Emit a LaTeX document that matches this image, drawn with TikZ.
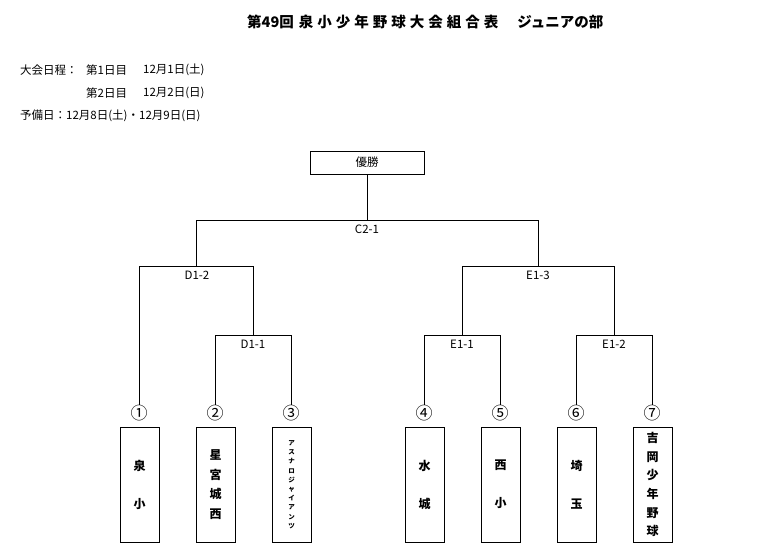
\documentclass[tikz,border=0pt]{standalone}
\usepackage{fontspec}
\setmainfont{Noto Sans CJK JP}
\begin{document}
\begin{tikzpicture}[x=1pt,y=-1pt,
  ln/.style={line width=1pt},
  lbl/.style={font=\fontsize{11.5}{12}\selectfont, inner sep=0},
  hdr/.style={font=\fontsize{11.5}{12}\selectfont, anchor=west, inner sep=0},
  num/.style={font=\fontsize{17}{17}\selectfont, inner sep=0pt},
  team/.style={draw, line width=1pt, minimum width=39pt, minimum height=115pt, inner sep=0, align=center},
]
\useasboundingbox (0,0) rectangle (764,551);
% title
\node[anchor=west, inner sep=0, font=\fontsize{14.5}{15}\selectfont\bfseries] (title) at (247,22)
  {第49回\hspace{5pt}泉\hspace{4pt}小\hspace{4pt}少\hspace{4pt}年\hspace{4pt}野\hspace{4pt}球\hspace{4pt}大\hspace{4pt}会\hspace{4pt}組\hspace{4pt}合\hspace{4pt}表\hspace{19pt}ジュニアの部};
% header
\node[hdr] (h1) at (20,70) {大会日程：};
\node[hdr] (h2) at (86,70) {第1日目};
\node[hdr] (h3) at (143,70) {12月1日(土)};
\node[hdr] (h4) at (86,93) {第2日目};
\node[hdr] (h5) at (143,93) {12月2日(日)};
\node[hdr] (h6) at (20,116) {予備日：12月8日(土)・12月9日(日)};
% winner box
\node[draw, line width=1pt, minimum width=114pt, minimum height=23pt, inner sep=0, font=\fontsize{11.5}{12}\selectfont] (win) at (367,162.5) {優勝};
% junctions
\coordinate (c21) at (367,220);
\coordinate (c21l) at (196,220);
\coordinate (c21r) at (538,220);
\coordinate (d12) at (196,266);
\coordinate (d12l) at (139,266);
\coordinate (d12r) at (253,266);
\coordinate (d11) at (253,335);
\coordinate (d11l) at (215,335);
\coordinate (d11r) at (291,335);
\coordinate (e13) at (538,266);
\coordinate (e13l) at (462,266);
\coordinate (e13r) at (614,266);
\coordinate (e11) at (462,335);
\coordinate (e11l) at (424,335);
\coordinate (e11r) at (500,335);
\coordinate (e12) at (614,335);
\coordinate (e12l) at (576,335);
\coordinate (e12r) at (652,335);
% seed numbers
\node[num] (n1) at (139,413) {①};
\node[num] (n2) at (215,413) {②};
\node[num] (n3) at (291,413) {③};
\node[num] (n4) at (424,413) {④};
\node[num] (n5) at (500,413) {⑤};
\node[num] (n6) at (576,413) {⑥};
\node[num] (n7) at (652,413) {⑦};
% bracket lines
\draw[ln] (win.south) -- (c21);
\draw[ln] (d12) -- (c21l) -- (c21r) -- (e13);
\draw[ln] (n1.north) -- (d12l) -- (d12r) -- (d11);
\draw[ln] (n2.north) -- (d11l) -- (d11r) -- (n3.north);
\draw[ln] (e11) -- (e13l) -- (e13r) -- (e12);
\draw[ln] (n4.north) -- (e11l) -- (e11r) -- (n5.north);
\draw[ln] (n6.north) -- (e12l) -- (e12r) -- (n7.north);
% match labels
\node[lbl] (lc21) at (367,229) {C2-1};
\node[lbl] (ld12) at (197,275) {D1-2};
\node[lbl] (ld11) at (253,344) {D1-1};
\node[lbl] (le13) at (538,275) {E1-3};
\node[lbl] (le11) at (462,344) {E1-1};
\node[lbl] (le12) at (614,344) {E1-2};
% teams
\node[team, font=\fontsize{12}{38}\selectfont\bfseries] (t1) at (139.5,484.5) {泉\\小};
\node[team, font=\fontsize{12}{19.5}\selectfont\bfseries] (t2) at (215.5,484.5) {星\\宮\\城\\西};
\node[team, font=\fontsize{6.5}{9.2}\selectfont\bfseries] (t3) at (291.5,484.5) {ア\\ス\\ナ\\ロ\\ジ\\ャ\\イ\\ア\\ン\\ツ};
\node[team, font=\fontsize{12}{38}\selectfont\bfseries] (t4) at (424.5,484.5) {水\\城};
\node[team, font=\fontsize{12}{38}\selectfont\bfseries] (t5) at (500.5,484.5) {西\\小};
\node[team, font=\fontsize{12}{38}\selectfont\bfseries] (t6) at (576.5,484.5) {埼\\玉};
\node[team, font=\fontsize{12}{18.7}\selectfont\bfseries] (t7) at (652.5,484.5) {吉\\岡\\少\\年\\野\\球};
\end{tikzpicture}
\end{document}
